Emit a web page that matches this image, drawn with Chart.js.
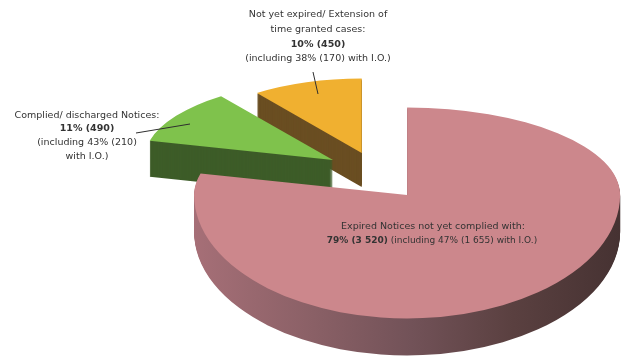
<!DOCTYPE html>
<html>
<head>
<meta charset="utf-8">
<script src="https://cdn.jsdelivr.net/npm/chart.js@4"></script>
<style>
  html, body { margin: 0; padding: 0; background: #fff; }
  #wrap { width: 623px; height: 360px; }
</style>
</head>
<body>
<div id="wrap"><canvas id="myChart" width="623" height="360"></canvas></div>
<script>
// data
let labels = ["Expired Notices not yet complied with", "Complied/ discharged Notices", "Not yet expired/ Extension of time granted cases"];
let counts = [3520, 490, 450];
let shares = ["79%", "11%", "10%"];
let withIO = ["47% (1 655)", "43% (210)", "38% (170)"];

// look of each slice: face colour, side colour, size on screen, tilt, explode
let faceColors = ["#cc878c", "#7fc24c", "#f0b030"];
let sideColors = ["#7a585c", "#3d5c28", "#6a4e22"];
let look = [
    {rx: 213, kTop: 0.41, kBot: 0.58, explode: 49, ky: 0.58, depth: 37},
    {rx: 189, kTop: 0.42, kBot: 0.42, explode: 53, ky: 0.42, depth: 36},
    {rx: 177, kTop: 0.42, kBot: 0.42, explode: 49, ky: 0.42, depth: 34}
];

const W = 623, H = 360;

function paint(ctx, a, fill, ax, ay, sx, sy){
    ctx.save();
    ctx.translate(ax, ay);
    ctx.scale(sx, sy);
    ctx.translate(-a.x, -a.y);
    let e = Object.create(a);
    e.options = Object.assign({}, a.options, {backgroundColor: fill, borderWidth: 0, offset: 0, spacing: 0});
    e.draw(ctx);
    ctx.restore();
}

// upper half and lower half get a different tilt, a cheap perspective
function paintHalves(ctx, a, fill, ax, ay, s, st){
    ctx.save();
    ctx.beginPath(); ctx.rect(0, 0, W, ay + 0.6); ctx.clip();
    paint(ctx, a, fill, ax, ay, s, s * st.kTop);
    ctx.restore();
    ctx.save();
    ctx.beginPath(); ctx.rect(0, ay, W, H - ay); ctx.clip();
    paint(ctx, a, fill, ax, ay, s, s * st.kBot);
    ctx.restore();
}

function drawSlice(ctx, a, i){
    let st = look[i];
    let mid = (a.startAngle + a.endAngle) / 2;
    let ax = a.x + Math.cos(mid) * st.explode;
    let ay = a.y + Math.sin(mid) * st.explode * st.ky;
    let s = st.rx / a.outerRadius;
    let side = sideColors[i];
    if(i == 0)
    {
        // gradient in the element's own space, so it spreads across the screen width of the slice
        side = ctx.createLinearGradient(a.x - a.outerRadius, 0, a.x + a.outerRadius, 0);
        side.addColorStop(0.0, "#a66f77");
        side.addColorStop(0.28, "#8a6066");
        side.addColorStop(0.51, "#725258");
        side.addColorStop(0.75, "#5a4040");
        side.addColorStop(1.0, "#463232");
    }
    for(let d = st.depth; d >= 1; d--)
    {
        paintHalves(ctx, a, side, ax, ay + d, s, st);
    }
    paintHalves(ctx, a, faceColors[i], ax, ay, s, st);
}

const depth3d = {
    id: "depth3d",
    beforeDatasetsDraw(chart){
        let arcs = chart.getDatasetMeta(0).data;
        // back slices first, the big one in front
        [2, 1, 0].forEach(i => drawSlice(chart.ctx, arcs[i], i));
        return false;
    },
    afterDraw(chart){
        let ctx = chart.ctx;
        ctx.save();
        ctx.strokeStyle = "#2e2e2e";
        ctx.lineWidth = 1;
        ctx.beginPath();
        ctx.moveTo(313, 72); ctx.lineTo(318, 94);
        ctx.moveTo(136, 133); ctx.lineTo(190, 124);
        ctx.stroke();

        ctx.fillStyle = "#333";
        ctx.textAlign = "center";
        ctx.textBaseline = "middle";
        let reg = "9.5px 'DejaVu Sans', sans-serif";
        let bold = "bold 9.5px 'DejaVu Sans', sans-serif";

        // top label (yellow)
        ctx.font = reg;
        ctx.fillText("Not yet expired/ Extension of", 318, 15);
        ctx.fillText("time granted cases:", 318, 30);
        ctx.font = bold;
        ctx.fillText(shares[2] + " (" + counts[2] + ")", 318, 45);
        ctx.font = reg;
        ctx.fillText("(including " + withIO[2] + " with I.O.)", 318, 59);

        // left label (green)
        ctx.fillText("Complied/ discharged Notices:", 87, 116);
        ctx.font = bold;
        ctx.fillText(shares[1] + " (" + counts[1] + ")", 87, 129);
        ctx.font = reg;
        ctx.fillText("(including " + withIO[1], 87, 143);
        ctx.fillText("with I.O.)", 87, 157);

        // big slice label (pink)
        ctx.fillText(labels[0] + ":", 433, 227);
        let p1 = shares[0] + " (3 520)";
        let p2 = " (including " + withIO[0] + " with I.O.)";
        let reg2 = "9px 'DejaVu Sans', sans-serif";
        let bold2 = "bold 9px 'DejaVu Sans', sans-serif";
        ctx.font = bold2;
        let w1 = ctx.measureText(p1).width;
        ctx.font = reg2;
        let w2 = ctx.measureText(p2).width;
        let x0 = 432 - (w1 + w2) / 2;
        ctx.textAlign = "left";
        ctx.font = bold2;
        ctx.fillText(p1, x0, 241);
        ctx.font = reg2;
        ctx.fillText(p2, x0 + w1, 241);
        ctx.restore();
    }
};

let ctx = document.getElementById("myChart").getContext("2d");
let myChart = new Chart(ctx, {
    type: "pie",
    data: {
        labels: labels,
        datasets: [{
            data: counts,
            backgroundColor: faceColors,
            borderWidth: 0
        }]
    },
    options: {
        responsive: false,
        animation: false,
        rotation: 0,
        layout: {padding: {left: 131, right: 0, top: 0, bottom: 15}},
        plugins: {
            legend: {display: false},
            tooltip: {enabled: false}
        }
    },
    plugins: [depth3d]
});
</script>
</body>
</html>
